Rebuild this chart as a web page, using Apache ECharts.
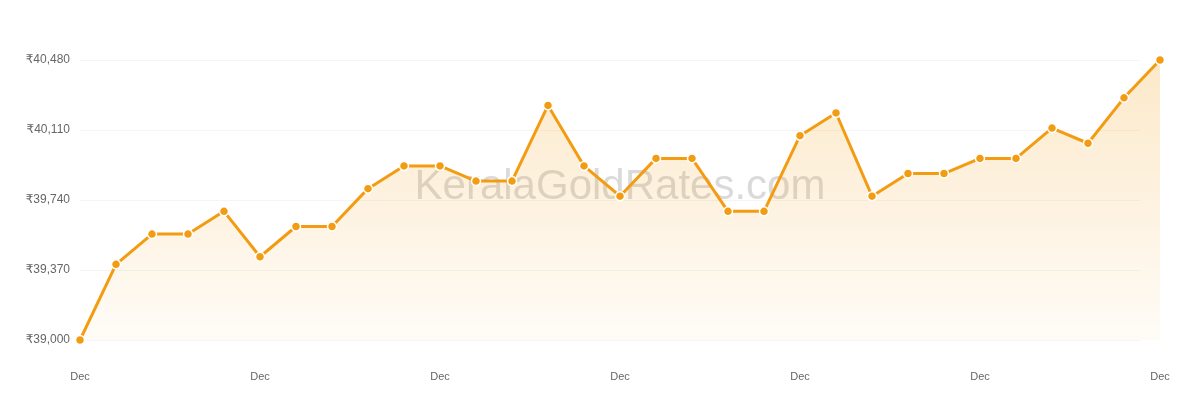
<!DOCTYPE html>
<html>
<head>
<meta charset="utf-8">
<script src="https://cdn.jsdelivr.net/npm/echarts@6/dist/echarts.min.js"></script>
<style>html,body{margin:0;padding:0;background:#fff}#c{width:1200px;height:400px}</style>
</head>
<body>
<div id="c"></div>
<script>
const categories = ['Dec','Dec','Dec','Dec','Dec','Dec','Dec','Dec','Dec','Dec','Dec','Dec','Dec','Dec','Dec','Dec','Dec','Dec','Dec','Dec','Dec','Dec','Dec','Dec','Dec','Dec','Dec','Dec','Dec','Dec','Dec'];
const prices = [39000, 39400, 39560, 39560, 39680, 39440, 39600, 39600, 39800, 39920, 39920, 39840, 39840, 40240, 39920, 39760, 39960, 39960, 39680, 39680, 40080, 40200, 39760, 39880, 39880, 39960, 39960, 40120, 40040, 40280, 40480];
const yTicks = [39000, 39370, 39740, 40110, 40480];

const yMin = yTicks[0], yMax = yTicks[yTicks.length - 1], yStep = yTicks[1] - yTicks[0];
const chart = echarts.init(document.getElementById('c'));
chart.setOption({
  animation: false,
  grid: [
    {left: 80, right: 40, top: 60, bottom: 60},
    {left: 80, right: 60, top: 60, bottom: 60}
  ],
  graphic: [{
    type: 'text', x: 620, y: 187, z: 1,
    style: {text: 'KeralaGoldRates.com', fontSize: 42, align: 'center', verticalAlign: 'middle',
      fontFamily: 'Liberation Sans, Arial, sans-serif', fill: 'rgba(140,140,140,0.32)'}
  }],
  xAxis: [{
    type: 'category', gridIndex: 0, data: categories, boundaryGap: false,
    axisLine: {show: false}, axisTick: {show: false}, splitLine: {show: false},
    axisLabel: {interval: 4, color: '#666', fontSize: 11, margin: 31, fontFamily: 'Liberation Sans, Arial, sans-serif'}
  }, {
    type: 'value', gridIndex: 1, show: false
  }],
  yAxis: [{
    type: 'value', gridIndex: 0, min: yMin, max: yMax, interval: yStep,
    axisLine: {show: false}, axisTick: {show: false}, splitLine: {show: false},
    axisLabel: {color: '#666', fontSize: 12, margin: 10, padding: [3, 0, 0, 0], fontFamily: 'Liberation Sans, DejaVu Sans, Arial, sans-serif',
      formatter: v => '₹' + v.toLocaleString('en-US')}
  }, {
    type: 'value', gridIndex: 1, min: yMin, max: yMax, interval: yStep,
    axisLine: {show: false}, axisTick: {show: false}, axisLabel: {show: false},
    splitLine: {show: true, lineStyle: {color: '#f5f5f5', width: 1}}
  }],
  series: [{
    type: 'line', xAxisIndex: 0, yAxisIndex: 0, data: prices, z: 3,
    symbol: 'circle', symbolSize: 9,
    lineStyle: {color: '#f39c12', width: 3},
    itemStyle: {color: '#f39c12', borderColor: '#fff', borderWidth: 1.5},
    areaStyle: {
      color: new echarts.graphic.LinearGradient(0, 0, 0, 1, [
        {offset: 0, color: 'rgba(243,156,18,0.32)'},
        {offset: 1, color: 'rgba(243,156,18,0.05)'}
      ])
    }
  }]
});
</script>
</body>
</html>
